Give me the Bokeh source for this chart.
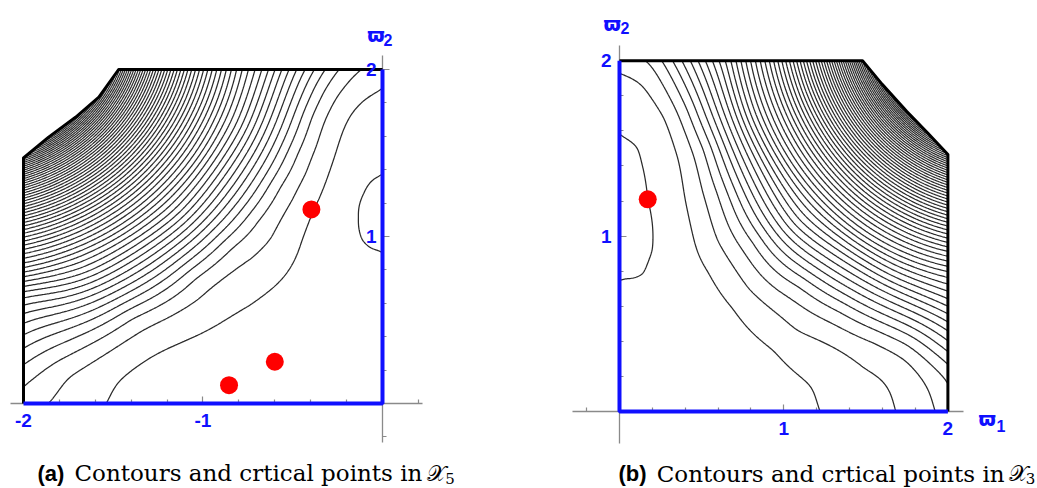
import numpy as np
from bokeh.plotting import figure
from bokeh.layouts import row
from bokeh.models import LinearAxis, FixedTicker, Range1d
from bokeh.core.properties import value
from bokeh.embed import file_html
from bokeh.resources import INLINE

# ---------------------------------------------------------------
# Panel (a): region X5  (omega1 in [-2, 0], omega2 in [0, 2])
# ---------------------------------------------------------------
a_omega1 = [-2.0, 0.0]
a_omega2 = [0.0, 2.0]
a_cut_x = [-2.0, -1.86, -1.71, -1.58, -1.47]
a_cut_y = [1.47, 1.595, 1.714, 1.834, 2.0]
a_crit_x = [-0.396, -0.600, -0.855]
a_crit_y = [1.162, 0.250, 0.110]
a_fan_centre = [-2.3, 2.3]

# contour lines (level index 0 = small loop on the axis)
a_loop_x = [0.0, -0.06, -0.104, -0.132, -0.113, -0.06, 0.0]
a_loop_y = [1.37, 1.335, 1.256, 1.116, 0.976, 0.925, 0.91]
a_dip_x = [-0.05, -0.05, -0.05]
a_dip_y = [1.13, 1.0, 1.27]
a_dip_k = [-0.35, -0.1, -0.15]
a_line1_x = [-1.52, -1.478, -1.293, -1.014, -0.735, -0.55, -0.457, -0.396, -0.308, -0.252, -0.178, -0.104, 0.0]
a_line1_y = [0.0, 0.138, 0.277, 0.417, 0.577, 0.756, 0.976, 1.162, 1.355, 1.535, 1.735, 1.825, 1.855]
a_line2_x = [-1.83, -1.757, -1.385, -1.014, -0.717, -0.60, -0.49, -0.42, -0.364, -0.29, -0.20, -0.13]
a_line2_y = [0.0, 0.178, 0.397, 0.617, 0.856, 0.976, 1.216, 1.375, 1.535, 1.754, 1.90, 2.0]
a_line3_x = [-2.0, -1.75, -1.40, -1.05, -0.85, -0.70, -0.58, -0.48, -0.40, -0.33, -0.25]
a_line3_y = [0.11, 0.28, 0.52, 0.76, 0.94, 1.10, 1.30, 1.50, 1.72, 1.87, 2.0]
# where the denser contours meet the top edge and the left edge
a_top_x = [-0.32, -0.38, -0.43, -0.48, -0.52, -0.56, -0.60, -0.635, -0.67, -0.705, -0.74, -0.775, -1.00, -1.20, -1.35, -1.47]
a_top_k = [4, 5, 6, 7, 8, 9, 10, 11, 12, 13, 14, 15, 23, 34, 44, 52]
a_left_y = [0.23, 0.33, 0.41, 0.48, 0.54, 0.59, 0.635, 0.675, 0.71, 0.745, 0.775, 0.805, 1.00, 1.20, 1.35, 1.46]
a_left_k = [4, 5, 6, 7, 8, 9, 10, 11, 12, 13, 14, 15, 23, 34, 44, 52]
# level index estimated inside the dense fan and in the open area
a_inner_x = [-1.092, -1.205, -0.869, -1.707, -1.357, -1.067, -1.789, -1.494, -1.247, -1.863, -1.596, -1.38, -1.919, -1.683]
a_inner_y = [1.092, 1.205, 1.707, 0.869, 1.357, 1.789, 1.067, 1.494, 1.863, 1.247, 1.596, 1.919, 1.38, 1.683]
a_inner_k = [10, 15, 15, 15, 23, 23, 23, 34, 34, 34, 44, 44, 44, 52]
a_open_x = [0.0, -0.5, -1.0, -1.7, -2.0, -0.3, -0.6, -0.85, -0.2, 0.0, 0.0, -0.25, 0.0, -0.1, 0.0]
a_open_y = [0.0, 0.0, 0.0, 0.0, 0.0, 0.3, 0.25, 0.11, 0.7, 0.5, 0.75, 1.15, 1.6, 1.62, 2.0]
a_open_k = [0.35, 0.55, 0.8, 1.5, 2.5, 0.45, 0.55, 0.7, 0.3, 0.2, 0.1, 0.5, 0.35, 0.45, 1.5]

a_xticks = [-2, -1]
a_xminor = [-1.8, -1.6, -1.4, -1.2, -0.8, -0.6, -0.4, -0.2, 0.2]
a_yticks = [1, 2]
a_yminor = [-0.2, 0.2, 0.4, 0.6, 0.8, 1.2, 1.4, 1.6, 1.8]
a_xlabels = {-2: "-2", -1: "-1"}
a_ylabels = {1: "1", 2: "2"}

# ---------------------------------------------------------------
# Panel (b): region X3  (omega1 in [0, 2], omega2 in [0, 2])
# ---------------------------------------------------------------
b_omega1 = [0.0, 2.0]
b_omega2 = [0.0, 2.0]
b_cut_x = [1.48, 1.60, 1.75, 1.88, 2.0]
b_cut_y = [2.0, 1.865, 1.71, 1.585, 1.465]
b_crit_x = [0.172]
b_crit_y = [1.21]
b_fan_centre = [2.3, 2.3]

b_loop_x = [0.0, 0.067, 0.147, 0.20, 0.20, 0.172, 0.147, 0.107, 0.0]
b_loop_y = [0.75, 0.757, 0.786, 0.917, 1.07, 1.21, 1.373, 1.506, 1.58]
b_dip_x = [0.05, 0.05, 0.05]
b_dip_y = [1.15, 0.9, 1.4]
b_dip_k = [-0.35, -0.15, -0.15]
b_line1_x = [1.22, 1.19, 0.96, 0.70, 0.55, 0.45, 0.40, 0.36, 0.28, 0.15, 0.02]
b_line1_y = [0.0, 0.16, 0.37, 0.60, 0.80, 1.00, 1.20, 1.45, 1.68, 1.86, 1.92]
b_line2_x = [1.68, 1.65, 1.47, 1.06, 0.78, 0.59, 0.50, 0.43, 0.35, 0.19]
b_line2_y = [0.0, 0.10, 0.22, 0.44, 0.69, 0.97, 1.25, 1.50, 1.70, 2.0]
b_line3_x = [1.92, 1.87, 1.75, 1.55, 1.34, 0.96, 0.71, 0.60, 0.52, 0.42, 0.26]
b_line3_y = [0.0, 0.14, 0.29, 0.40, 0.48, 0.69, 0.97, 1.25, 1.50, 1.72, 2.0]
b_line4_x = [0.32, 0.47, 0.58, 0.68, 0.82, 1.10, 1.34, 1.75, 2.0]
b_line4_y = [2.0, 1.70, 1.45, 1.20, 0.97, 0.72, 0.575, 0.39, 0.19]
b_top_x = [0.38, 0.43, 0.48, 0.52, 0.57, 0.60, 0.65, 0.69, 0.72, 0.75, 0.78, 1.00, 1.20, 1.35, 1.48]
b_top_k = [5, 6, 7, 8, 9, 10, 11, 12, 13, 14, 15, 23, 34, 44, 52]
b_right_y = [0.27, 0.34, 0.40, 0.46, 0.51, 0.56, 0.60, 0.64, 0.68, 0.72, 0.75, 1.00, 1.20, 1.35, 1.46]
b_right_k = [5, 6, 7, 8, 9, 10, 11, 12, 13, 14, 15, 23, 34, 44, 52]
b_inner_x = [1.065, 1.205, 0.869, 1.707, 1.357, 1.067, 1.789, 1.494, 1.247, 1.863, 1.596, 1.38, 1.919, 1.683]
b_inner_y = [1.065, 1.205, 1.707, 0.869, 1.357, 1.789, 1.067, 1.494, 1.863, 1.247, 1.596, 1.919, 1.38, 1.683]
b_inner_k = [10, 15, 15, 15, 23, 23, 23, 34, 34, 34, 44, 44, 44, 52]
b_open_x = [0.0, 0.0, 0.0, 0.2, 0.3, 0.6, 0.65, 1.0, 1.45, 1.8, 2.0, 0.3, 0.32, 0.25, 0.0, 0.08, 0.0]
b_open_y = [0.0, 0.4, 0.6, 0.55, 0.3, 0.0, 0.3, 0.0, 0.0, 0.0, 0.0, 0.8, 1.1, 1.45, 1.75, 1.7, 2.0]
b_open_k = [0.35, 0.25, 0.15, 0.3, 0.45, 0.6, 0.65, 0.85, 1.5, 2.5, 3.5, 0.45, 0.45, 0.45, 0.4, 0.45, 1.5]

b_xticks = [1, 2]
b_xminor = [-0.2, 0.2, 0.4, 0.6, 0.8, 1.2, 1.4, 1.6, 1.8]
b_yticks = [1, 2]
b_yminor = [0.2, 0.4, 0.6, 0.8, 1.2, 1.4, 1.6, 1.8]
b_xlabels = {1: "1", 2: "2"}
b_ylabels = {1: "1", 2: "2"}

contour_index = list(range(0, 80))

# ---------------------------------------------------------------
# field: smoothing spline through the open-area contours, blended into
# concentric 1/r arcs around the fan centre for the dense part
# ---------------------------------------------------------------
def tps_field(px, py, pk, lam, X, Y):
    n = len(px)
    d = np.hypot(px[:, None] - px[None, :], py[:, None] - py[None, :])
    K = np.where(d > 0, d ** 2 * np.log(np.where(d > 0, d, 1.0)), 0.0) + np.diag(lam)
    P = np.column_stack([np.ones(n), px, py])
    A = np.zeros((n + 3, n + 3))
    A[:n, :n] = K
    A[:n, n:] = P
    A[n:, :n] = P.T
    sol = np.linalg.solve(A, np.concatenate([pk, np.zeros(3)]))
    w, c = sol[:n], sol[n:]
    U = c[0] + c[1] * X + c[2] * Y
    for i in range(n):
        r = np.hypot(X - px[i], Y - py[i])
        U += w[i] * np.where(r > 0, r ** 2 * np.log(np.where(r > 0, r, 1.0)), 0.0)
    return U


def gather(groups):
    xs, ys, ks, ls = [], [], [], []
    for gx_, gy_, gk, gl in groups:
        n = max(len(v) for v in (gx_, gy_, gk) if hasattr(v, "__len__"))
        xs += list(gx_) if hasattr(gx_, "__len__") else [gx_] * n
        ys += list(gy_) if hasattr(gy_, "__len__") else [gy_] * n
        ks += list(gk) if hasattr(gk, "__len__") else [gk] * n
        ls += [gl] * n
    return np.array(xs, float), np.array(ys, float), np.array(ks, float), np.array(ls, float)


def build_field(px, py, pk, pl, centre, gx, gy, k_lo=10.0, k_hi=17.0):
    X, Y = np.meshgrid(gx, gy)
    cx, cy = centre
    m = pk >= 10
    rinv = 1.0 / np.hypot(px[m] - cx, py[m] - cy)
    Afan, Cfan = np.linalg.lstsq(np.column_stack([rinv, np.ones(m.sum())]), pk[m], rcond=None)[0]
    k_fan = Afan / np.hypot(X - cx, Y - cy) + Cfan
    s = (pk <= 15)
    k_open = tps_field(px[s], py[s], pk[s], pl[s], X, Y)
    t = np.clip((k_fan - k_lo) / (k_hi - k_lo), 0.0, 1.0)
    t = t * t * (3 - 2 * t)
    return (1 - t) * k_open + t * k_fan


LAM_LINE, LAM_LOOP, LAM_OPEN, LAM_EDGE = 0.03, 0.002, 0.02, 0.02
a_px, a_py, a_pk, a_pl = gather([
    (a_loop_x, a_loop_y, 0, LAM_LOOP), (a_dip_x, a_dip_y, a_dip_k, LAM_LOOP),
    (a_line1_x, a_line1_y, 1, LAM_LINE), (a_line2_x, a_line2_y, 2, LAM_LINE),
    (a_line3_x, a_line3_y, 3, LAM_LINE), (a_top_x, a_omega2[1], a_top_k, LAM_EDGE),
    (a_omega1[0], a_left_y, a_left_k, LAM_EDGE),
    (a_inner_x, a_inner_y, a_inner_k, LAM_EDGE), (a_open_x, a_open_y, a_open_k, LAM_OPEN)])
b_px, b_py, b_pk, b_pl = gather([
    (b_loop_x, b_loop_y, 0, LAM_LOOP), (b_dip_x, b_dip_y, b_dip_k, LAM_LOOP),
    (b_line1_x, b_line1_y, 1, LAM_LINE), (b_line2_x, b_line2_y, 2, LAM_LINE),
    (b_line3_x, b_line3_y, 3, LAM_LINE), (b_line4_x, b_line4_y, 4, LAM_LINE),
    (b_top_x, b_omega2[1], b_top_k, LAM_EDGE), (b_omega1[1], b_right_y, b_right_k, LAM_EDGE),
    (b_inner_x, b_inner_y, b_inner_k, LAM_EDGE), (b_open_x, b_open_y, b_open_k, LAM_OPEN)])

NG = 321
a_gx = np.linspace(a_omega1[0], a_omega1[1], NG)
a_gy = np.linspace(a_omega2[0], a_omega2[1], NG)
b_gx = np.linspace(b_omega1[0], b_omega1[1], NG)
b_gy = np.linspace(b_omega2[0], b_omega2[1], NG)
a_K = build_field(a_px, a_py, a_pk, a_pl, a_fan_centre, a_gx, a_gy)
b_K = build_field(b_px, b_py, b_pk, b_pl, b_fan_centre, b_gx, b_gy)
levels = [float(k) for k in contour_index]

BLUE = "#1010ff"
AXIS_GRAY = "#8a8a8a"
LINE_COL = "#2b2b2b"


def make_fig(width, xr, yr):
    p = figure(width=width, height=488, x_range=Range1d(*xr), y_range=Range1d(*yr),
               output_backend="svg", toolbar_location=None,
               x_axis_location=None, y_axis_location=None, min_border=0,
               outline_line_color=None, background_fill_color="white", border_fill_color="white")
    p.grid.visible = False
    return p


def add_axes(p, xb, yb, xt, xm, yt, ym, xlab, ylab, xstand, ystand):
    common = dict(axis_line_color=AXIS_GRAY, axis_line_width=1.3,
                  major_tick_line_color=AXIS_GRAY, minor_tick_line_color=AXIS_GRAY,
                  major_tick_line_width=1.2, minor_tick_line_width=1.2,
                  major_tick_in=7, major_tick_out=0, minor_tick_in=4, minor_tick_out=0,
                  major_label_text_alpha=0)
    xa = LinearAxis(fixed_location=0, bounds=xb, ticker=FixedTicker(ticks=xt, minor_ticks=xm), **common)
    ya = LinearAxis(fixed_location=0, bounds=yb, ticker=FixedTicker(ticks=yt, minor_ticks=ym), **common)
    xa.level = "underlay"
    ya.level = "underlay"
    p.add_layout(xa, "below")
    p.add_layout(ya, "left")
    lab = dict(axis_line_color=None, major_tick_line_color=None, minor_tick_line_color=None,
               major_tick_in=0, major_tick_out=0, minor_tick_in=0, minor_tick_out=0,
               major_label_text_font="Liberation Sans", major_label_text_font_style="bold",
               major_label_text_font_size="19px", major_label_text_color=BLUE)
    xl = LinearAxis(fixed_location=0, bounds=xb, ticker=FixedTicker(ticks=xt, minor_ticks=[]),
                    major_label_overrides=xlab, major_label_standoff=xstand, **lab)
    yl = LinearAxis(fixed_location=0, bounds=yb, ticker=FixedTicker(ticks=yt, minor_ticks=[]),
                    major_label_overrides=ylab, major_label_standoff=ystand, **lab)
    p.add_layout(xl, "below")
    p.add_layout(yl, "left")


def put_text(p, x, y, s, font, size, style="normal", color="black", align="left"):
    p.text(x=[x], y=[y], text=[s], text_font=value(font), text_font_size=value(size),
           text_font_style=style, text_color=color, text_align=align, text_baseline="alphabetic")


# ------------------------------ panel (a) ------------------------------
pa = make_fig(500, (-2.1281, 0.6574), (-0.509, 2.4132))
pa.contour(x=a_gx, y=a_gy, z=a_K, levels=levels, line_color=LINE_COL, line_width=1.25)
pa.patch(x=a_cut_x + [a_cut_x[-1], -2.2, -2.2], y=a_cut_y + [2.2, 2.2, a_cut_y[0]],
         fill_color="white", line_color=None)
pa.line(x=[a_omega1[0]] + a_cut_x + [a_omega1[1]], y=[a_omega2[0]] + a_cut_y + [a_omega2[1]],
        line_color="black", line_width=3, line_join="round")
pa.line(x=[a_omega1[0], a_omega1[1], a_omega1[1]], y=[a_omega2[0], a_omega2[0], a_omega2[1]],
        line_color=BLUE, line_width=4)
pa.scatter(x=a_crit_x, y=a_crit_y, size=18, color="red", line_color=None)
add_axes(pa, (-2.072, 0.223), (-0.233, 2.084), a_xticks, a_xminor, a_yticks, a_yminor,
         a_xlabels, a_ylabels, 11, 6)
put_text(pa, -0.085, 2.204, "\u03d6", "DejaVu Sans", "20px", "bold", BLUE)
put_text(pa, 0.006, 2.174, "2", "Liberation Sans", "16px", "bold", BLUE)
put_text(pa, -1.922, -0.419, "(a)", "Liberation Sans", "22px", "bold")
put_text(pa, 0.222, -0.419, "Contours and crtical points in", "DejaVu Serif", "23px", align="right")
put_text(pa, 0.250, -0.419, "\U0001D4B3", "DejaVu Serif", "22px")
put_text(pa, 0.350, -0.449, "5", "DejaVu Serif", "15px")

# ------------------------------ panel (b) ------------------------------
pb = make_fig(537, (-0.7247, 2.5457), (-0.439, 2.3432))
pb.contour(x=b_gx, y=b_gy, z=b_K, levels=levels, line_color=LINE_COL, line_width=1.25)
pb.patch(x=b_cut_x + [2.2, 2.2, b_cut_x[0]], y=b_cut_y + [b_cut_y[-1], 2.2, 2.2],
         fill_color="white", line_color=None)
pb.line(x=[b_omega1[0]] + b_cut_x + [b_omega1[1]], y=[b_omega2[1]] + b_cut_y + [b_omega2[0]],
        line_color="black", line_width=3, line_join="round")
pb.line(x=[b_omega1[0], b_omega1[0], b_omega1[1]], y=[b_omega2[1], b_omega2[0], b_omega2[0]],
        line_color=BLUE, line_width=4)
pb.scatter(x=b_crit_x, y=b_crit_y, size=18, color="red", line_color=None)
add_axes(pb, (-0.288, 2.095), (-0.182, 2.087), b_xticks, b_xminor, b_yticks, b_yminor,
         b_xlabels, b_ylabels, 11, 8)
put_text(pb, -0.0974, 2.212, "\u03d6", "DejaVu Sans", "20px", "bold", BLUE)
put_text(pb, 0.006, 2.184, "2", "Liberation Sans", "16px", "bold", BLUE)
put_text(pb, 2.186, -0.040, "\u03d6", "DejaVu Sans", "20px", "bold", BLUE)
put_text(pb, 2.296, -0.080, "1", "Liberation Sans", "16px", "bold", BLUE)
put_text(pb, -0.006, -0.3535, "(b)", "Liberation Sans", "22px", "bold")
put_text(pb, 2.345, -0.3535, "Contours and crtical points in", "DejaVu Serif", "23px", align="right")
put_text(pb, 2.372, -0.3535, "\U0001D4B3", "DejaVu Serif", "22px")
put_text(pb, 2.474, -0.382, "3", "DejaVu Serif", "15px")

layout = row(pa, pb)
open("out.html", "w").write(file_html(layout, INLINE))
